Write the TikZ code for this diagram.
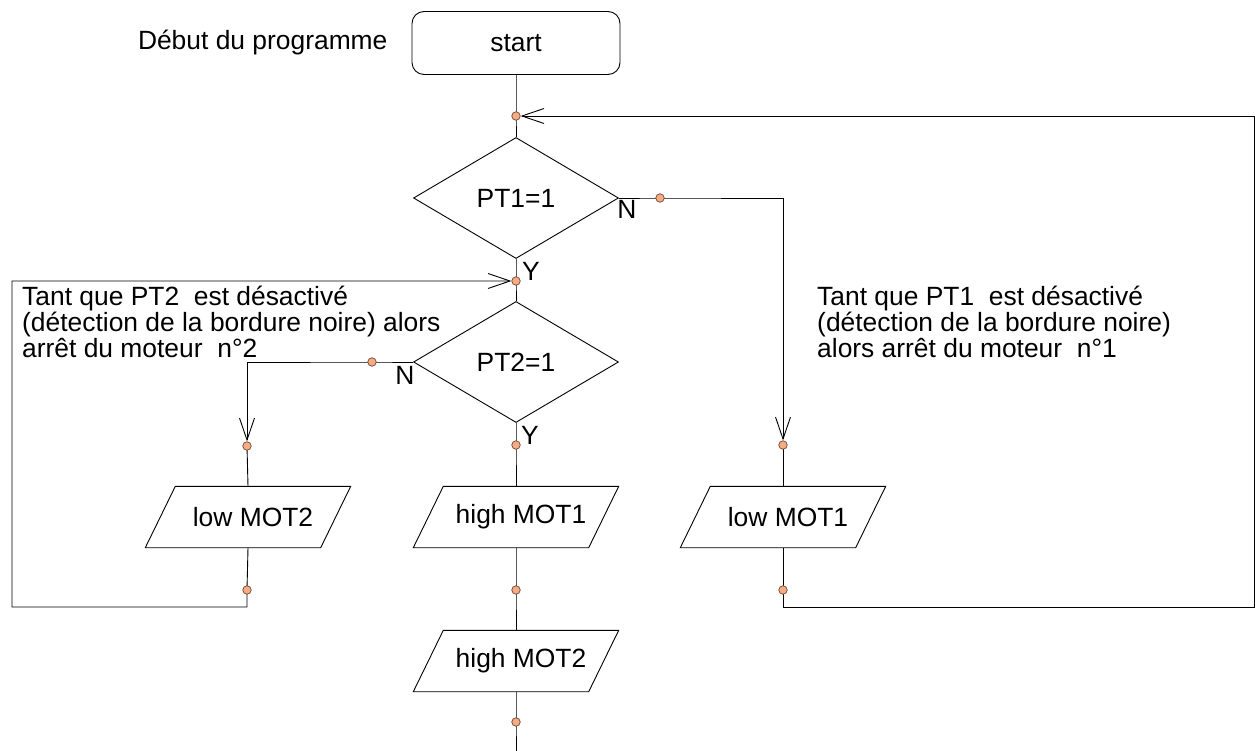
\documentclass[tikz,border=0pt]{standalone}
\usepackage{fontspec}
\setmainfont{Liberation Sans}
\usetikzlibrary{shapes.geometric,arrows.meta}
\pgfdeclarelayer{wires}
\pgfsetlayers{wires,main}
\definecolor{dotfill}{RGB}{244,172,132}
\definecolor{dotline}{RGB}{110,70,50}
% slanted input/output outline around a rectangular node
\newcommand\ioframe[1]{%
  \draw[line width=0.9pt] ([xshift=15pt]#1.north west) -- ([xshift=15pt]#1.north east)
    -- ([xshift=-15pt]#1.south east) -- ([xshift=-15pt]#1.south west) -- cycle;}
\begin{document}
\begin{tikzpicture}[x=1pt,y=-1pt,
  every node/.style={font=\fontsize{26.4}{21.5}\selectfont},
  wire/.style={draw=black,line width=0.9pt},
  arr/.style={wire,-{Straight Barb[length=22pt,width=15pt,line width=0.9pt]}},
  joint/.style={circle,draw=dotline,fill=dotfill,line width=0.7pt,minimum size=8.5pt,inner sep=0pt},
  startbox/.style={draw,rounded corners=12pt,minimum width=208pt,minimum height=63pt,line width=0.9pt},
  test/.style={diamond,draw,minimum width=205pt,minimum height=121pt,inner sep=0pt,line width=0.9pt},
  io/.style={rectangle,minimum width=175pt,minimum height=61pt,inner sep=0pt},
  note/.style={align=left,inner sep=0pt,anchor=north west},
  branch/.style={inner sep=0pt}
]
\useasboundingbox (0,0) rectangle (1255,751);

% blocks
\node[anchor=east] (title) at (391,43) {Début du programme};
\node[startbox] (start) at (516,43) {start};
\node[test] (pt1) at (516,198) {PT1=1};
\node[test] (pt2) at (516,362) {PT2=1};
\node[io] (low2) at (248,517) {\hspace{10pt}low MOT2};
\node[io] (high1) at (516,517) {\hspace{10pt}high MOT1};
\node[io] (low1) at (783,517) {\hspace{10pt}low MOT1};
\node[io] (high2) at (516,661) {\hspace{10pt}high MOT2};
\ioframe{low2}
\ioframe{high1}
\ioframe{low1}
\ioframe{high2}

% comments
\node[note] (noteL) at (22,286) {Tant que PT2\ \ est désactivé\\(détection de la bordure noire) alors\\arrêt du moteur\ \ n°2};
\node[note] (noteR) at (817,286) {Tant que PT1\ \ est désactivé\\(détection de la bordure noire)\\alors arrêt du moteur\ \ n°1};

% branch labels
\node[branch] (n1) at (627,209) {N};
\node[branch] (y1) at (531,271) {Y};
\node[branch] (n2) at (405,375) {N};
\node[branch] (y2) at (530,435) {Y};

% junction points
\node[joint] (d0) at (516,116) {};
\node[joint] (d1) at (660,198) {};
\node[joint] (d2) at (783,445) {};
\node[joint] (d3) at (783,590) {};
\node[joint] (dy1) at (516,281) {};
\node[joint] (d4) at (372,362) {};
\node[joint] (d5) at (247,446) {};
\node[joint] (d6) at (247,590) {};
\node[joint] (dy2) at (516,445) {};
\node[joint] (d7) at (516,590) {};
\node[joint] (d8) at (516,722) {};

\coordinate (r1) at (1254,607);
\coordinate (r2) at (1254,116);
\coordinate (l1) at (12,607);
\coordinate (l2) at (12,281);
\coordinate (tail) at (516,751);

\begin{pgfonlayer}{wires}
  % main column
  \draw[wire] (start.south) -- (d0.center) -- (pt1.north);
  \draw[wire] (pt1.south) -- (dy1.center) -- (pt2.north);
  \draw[wire] (pt2.south) -- (dy2.center) -- (high1.north);
  \draw[wire] (high1.south) -- (d7.center) -- (high2.north);
  \draw[wire] (high2.south) -- (d8.center) -- (tail);
  % PT1 not set: stop motor 1 and loop back
  \draw[arr] (pt1.east) -- (d1.center) -| (d2);
  \draw[wire] (d2.center) -- (low1.north);
  \draw[arr] (low1.south) -- (d3.center) |- (r1) -- (r2) -- (d0);
  % PT2 not set: stop motor 2 and loop back
  \draw[arr] (pt2.west) -- (d4.center) -| (d5);
  \draw[wire] (d5.center) -- (low2.north);
  \draw[arr] (low2.south) -- (d6.center) |- (l1) -- (l2) -- (dy1);
\end{pgfonlayer}
\end{tikzpicture}
\end{document}
